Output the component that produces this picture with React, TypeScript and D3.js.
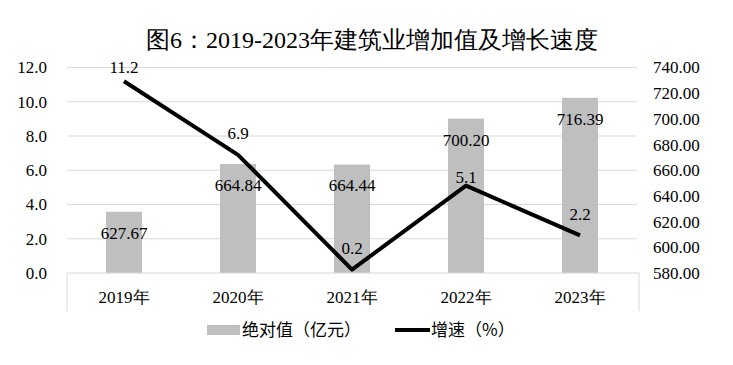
import React from "react";
import * as d3 from "d3";

const categories = ["2019年", "2020年", "2021年", "2022年", "2023年"];
const absValues = [627.67, 664.84, 664.44, 700.2, 716.39];
const growthValues = [11.2, 6.9, 0.2, 5.1, 2.2];
const leftTicks = [0, 2, 4, 6, 8, 10, 12];
const rightTicks = [580, 600, 620, 640, 660, 680, 700, 720, 740];
const growthLabelOffsets = [14, 22, 22, 9, 21];

const W = 733;
const H = 365;
const FONT = "Liberation Serif";
const CJK = "Noto Sans CJK SC";

export default function App() {
  const x = d3.scaleBand<string>().domain(categories).range([67, 637]).paddingInner(0).paddingOuter(0);
  const yL = d3.scaleLinear().domain([0, 12]).range([273, 67.5]);
  const yR = d3.scaleLinear().domain([580, 740]).range([273, 67.5]);
  const barW = 36;
  const cx = (c: string) => (x(c) as number) + x.bandwidth() / 2;
  const line = d3
    .line<number>()
    .x((_, i) => cx(categories[i]))
    .y((d) => yL(d));

  return (
    <svg width={W} height={H} style={{ position: "absolute", left: 0, top: 0, background: "#fff" }}>
      <rect x={0} y={0} width={W} height={H} fill="#fff" />
      <text x={372} y={48} textAnchor="middle" fontSize={24} fontFamily={FONT} fill="#000">
        图6：2019-2023年建筑业增加值及增长速度
      </text>
      {leftTicks.map((t) => (
        <g key={"l" + t}>
          {t > 0 && <line x1={67} x2={637} y1={yL(t)} y2={yL(t)} stroke="#d9d9d9" strokeWidth={1} />}
          <text x={47} y={yL(t)} dy="0.35em" textAnchor="end" fontSize={17} fontFamily={FONT}>
            {t.toFixed(1)}
          </text>
        </g>
      ))}
      {rightTicks.map((t) => (
        <text key={"r" + t} x={653} y={yR(t)} dy="0.35em" textAnchor="start" fontSize={17} fontFamily={FONT}>
          {t.toFixed(2)}
        </text>
      ))}
      {categories.map((c, i) => (
        <rect key={"b" + c} x={cx(c) - barW / 2} y={yR(absValues[i])} width={barW} height={yR(580) - yR(absValues[i])} fill="#bfbfbf" />
      ))}
      <line x1={67} x2={639} y1={273} y2={273} stroke="#d9d9d9" strokeWidth={1} />
      <line x1={67} x2={67} y1={273} y2={311} stroke="#d9d9d9" strokeWidth={1} />
      <line x1={639} x2={639} y1={273} y2={311} stroke="#d9d9d9" strokeWidth={1} />
      <path d={line(growthValues) || ""} fill="none" stroke="#000" strokeWidth={4} strokeLinejoin="round" />
      {categories.map((c, i) => (
        <text key={"al" + c} x={cx(c)} y={yR(absValues[i]) + 21} dy="0.35em" textAnchor="middle" fontSize={17} fontFamily={FONT}>
          {absValues[i].toFixed(2)}
        </text>
      ))}
      {categories.map((c, i) => (
        <text key={"gl" + c} x={cx(c)} y={yL(growthValues[i]) - growthLabelOffsets[i]} dy="0.35em" textAnchor="middle" fontSize={17} fontFamily={FONT}>
          {growthValues[i].toFixed(1)}
        </text>
      ))}
      {categories.map((c) => (
        <text key={"c" + c} x={cx(c)} y={297} dy="0.35em" textAnchor="middle" fontSize={17} fontFamily={FONT}>
          {c}
        </text>
      ))}
      <rect x={207} y={325} width={33} height={10} fill="#bfbfbf" />
      <text x={242} y={330} dy="0.35em" fontSize={17} fontFamily={CJK}>
        绝对值（亿元）
      </text>
      <line x1={395} x2={430} y1={330} y2={330} stroke="#000" strokeWidth={4} />
      <text x={431} y={330} dy="0.35em" fontSize={17} fontFamily={CJK}>
        增速（%）
      </text>
    </svg>
  );
}
